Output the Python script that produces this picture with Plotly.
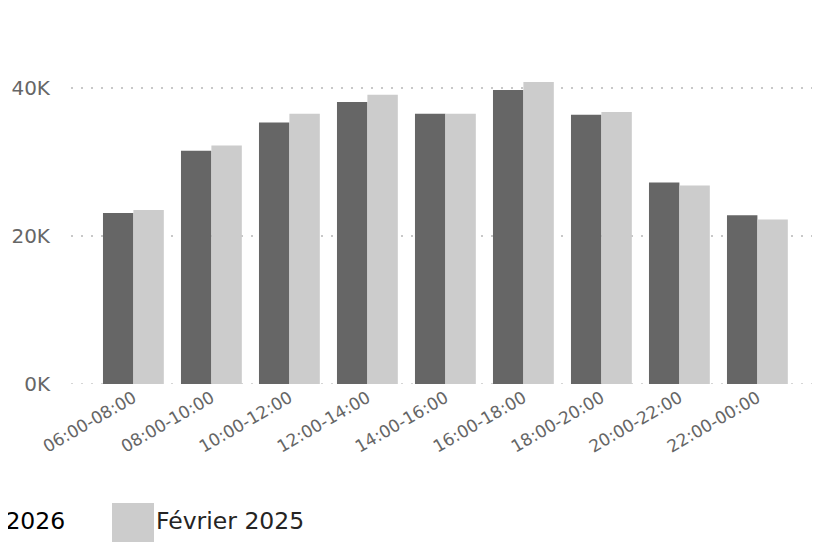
import plotly.graph_objects as go

categories = ["06:00-08:00", "08:00-10:00", "10:00-12:00", "12:00-14:00", "14:00-16:00",
              "16:00-18:00", "18:00-20:00", "20:00-22:00", "22:00-00:00"]
feb_2026 = [23100, 31500, 35300, 38100, 36500, 39700, 36350, 27200, 22800]
feb_2025 = [23500, 32200, 36500, 39050, 36500, 40800, 36750, 26800, 22200]
series_names = ["Février 2026", "Février 2025"]
y_tick_vals = [0, 20000, 40000]
y_tick_text = ["0K", "20K", "40K"]

DARK = "#666666"
LIGHT = "#CCCCCC"
GRID = "#C8C8C8"
OFF = 8  # page body margin offset
W, H = 825, 542
ML, MR, MT, MB = 71 - OFF, 13 + OFF, 73 - OFF, 158 + OFF
PW = W - ML - MR
PH = H - MT - MB

def px_x(p):
    return (p - OFF - ML) / PW

def px_y(p):
    return (H - MB - (p - OFF)) / PH

fig = go.Figure()
fig.add_trace(go.Bar(x=categories, y=feb_2026, name=series_names[0], marker_color=DARK,
                     marker_line_width=0, showlegend=False))
fig.add_trace(go.Bar(x=categories, y=feb_2025, name=series_names[1], marker_color=LIGHT,
                     marker_line_width=0, showlegend=False))

fig.update_layout(
    width=W, height=H,
    margin=dict(l=ML, r=MR, t=MT, b=MB, autoexpand=False),
    paper_bgcolor="white", plot_bgcolor="white",
    barmode="group", bargap=0.22, bargroupgap=0,
    font=dict(family="DejaVu Sans", color="#666666"),
    xaxis=dict(
        type="category", range=[-0.8, 8.7],
        tickangle=-30, tickfont=dict(size=17, color="#666666"),
        showgrid=False, showline=False, zeroline=False, ticks="",
    ),
    yaxis=dict(
        range=[0, 42000], tickvals=y_tick_vals, ticktext=y_tick_text,
        tickfont=dict(size=20, color="#666666"),
        showgrid=True, gridcolor=GRID, gridwidth=1.5, griddash="2px,8px",
        zeroline=False, showline=False,
        ticks="outside", ticklen=16, tickcolor="rgba(0,0,0,0)",
    ),
)

# dotted baseline gridline at 0 (plotly hides the gridline at the range edge)
fig.add_shape(type="line", xref="paper", yref="y", x0=0, x1=1, y0=0, y1=0,
              line=dict(color=GRID, width=1.5, dash="2px,8px"), layer="below")

# Legend drawn at bottom (first item partly outside the visible area)
legend_items = [
    (series_names[0], DARK, -127, "#000000"),
    (series_names[1], LIGHT, 112, "#252423"),
]
for name, col, sx, tcol in legend_items:
    fig.add_shape(type="rect", xref="paper", yref="paper",
                  x0=px_x(sx), x1=px_x(sx + 42), y0=px_y(503), y1=px_y(545),
                  fillcolor=col, line_width=0, layer="above")
    fig.add_annotation(xref="paper", yref="paper", x=px_x(sx + 42), y=px_y(521),
                       text=name, showarrow=False, xanchor="left", yanchor="middle",
                       font=dict(family="DejaVu Sans", size=23.5, color=tcol))

fig.write_html("out.html")
